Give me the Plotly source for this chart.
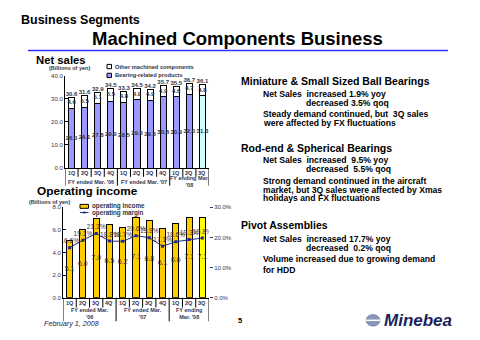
import plotly.graph_objects as go

# ---------------- data ----------------
quarters = ["1Q", "2Q", "3Q", "4Q", "1Q", "2Q", "3Q", "4Q", "1Q", "2Q", "3Q"]
bearing_related = [26.0, 26.1, 27.8, 29.0, 28.5, 29.6, 29.3, 30.8, 30.9, 32.0, 31.3]
other_machined = [4.6, 5.5, 5.1, 5.5, 4.8, 4.9, 4.9, 4.9, 4.6, 4.7, 4.8]
net_sales_total = [30.6, 31.6, 32.9, 34.5, 33.3, 34.5, 34.2, 35.7, 35.5, 36.7, 36.1]
operating_income = [5.1, 6.0, 7.0, 6.5, 6.2, 7.1, 6.8, 6.1, 6.6, 7.1, 7.1]
operating_margin = [16.6, 19.1, 21.3, 18.8, 18.7, 20.6, 19.9, 17.1, 18.6, 19.3, 19.8]
groups_ns = ["FY ended Mar. '06", "FY ended Mar. '07", "FY ending Mar.<br>'08"]
groups_op = ["FY ended Mar.<br>'06", "FY ended Mar.<br>'07", "FY ending<br>Mar. '08"]
group_spans = [(0, 3), (4, 7), (8, 10)]

W, H = 480, 340
FONT = "Liberation Sans"
def px(p): return p / W
def py(p): return 1 - p / H

n = len(quarters)
xs = list(range(n))
bear_colors = ["#9999FF"] * (n - 1) + ["#CCFFFF"]
op_colors = ["#FFCC00"] * (n - 1) + ["#FFFF00"]

fig = go.Figure()

# Net sales stacked bars
fig.add_trace(go.Bar(x=xs, y=bearing_related, marker=dict(color=bear_colors, line=dict(color="black", width=1)),
                     width=0.46, xaxis="x", yaxis="y", showlegend=False, hoverinfo="skip"))
fig.add_trace(go.Bar(x=xs, y=other_machined, marker=dict(color="white", line=dict(color="black", width=1)),
                     width=0.46, xaxis="x", yaxis="y", showlegend=False, hoverinfo="skip"))
lab_font = dict(family=FONT, size=6, color="#333344")
fig.add_trace(go.Scatter(x=xs, y=[b / 2 for b in bearing_related], mode="text",
                         text=[f"<b>{v:.1f}</b>" for v in bearing_related], textfont=lab_font,
                         xaxis="x", yaxis="y", showlegend=False, hoverinfo="skip"))
fig.add_trace(go.Scatter(x=xs, y=[b + o / 2 for b, o in zip(bearing_related, other_machined)], mode="text",
                         text=[f"<b>{v:.1f}</b>" for v in other_machined], textfont=lab_font,
                         xaxis="x", yaxis="y", showlegend=False, hoverinfo="skip"))
fig.add_trace(go.Scatter(x=xs, y=net_sales_total, mode="text", textposition="top center",
                         text=[f"<b>{v:.1f}</b>" for v in net_sales_total], textfont=lab_font,
                         xaxis="x", yaxis="y", showlegend=False, hoverinfo="skip"))

# Operating income bars
fig.add_trace(go.Bar(x=xs, y=operating_income, marker=dict(color=op_colors, line=dict(color="black", width=1)),
                     width=0.46, xaxis="x2", yaxis="y2", showlegend=False, hoverinfo="skip"))
fig.add_trace(go.Scatter(x=xs, y=[v / 2 for v in operating_income], mode="text",
                         text=[f"{v:.1f}" for v in operating_income],
                         textfont=dict(family=FONT, size=7, color="#3a3040"),
                         xaxis="x2", yaxis="y2", showlegend=False, hoverinfo="skip"))
fig.add_trace(go.Scatter(x=xs, y=[m / 100 for m in operating_margin], mode="lines+markers+text",
                         line=dict(color="#1f2a8a", width=1), marker=dict(color="#1f2a8a", size=3, symbol="square"),
                         text=[f"{m:.1f}%" for m in operating_margin], textposition="top center",
                         textfont=dict(family=FONT, size=6.6, color="#4a3030"),
                         xaxis="x2", yaxis="y3", showlegend=False, hoverinfo="skip"))

tickfont = dict(family=FONT, size=6, color="#333355")
fig.update_layout(
    width=W, height=H, margin=dict(l=0, r=0, t=0, b=0), autosize=False,
    paper_bgcolor="white", plot_bgcolor="white", barmode="stack", showlegend=False,
    xaxis=dict(domain=[px(65), px(209)], range=[-0.5, n - 0.5], showticklabels=False, ticks="",
               showgrid=False, zeroline=False, showline=True, linecolor="black", linewidth=1, anchor="y"),
    yaxis=dict(domain=[py(168), py(74)], range=[0, 40], tickvals=[0, 10, 20, 30, 40],
               ticktext=["0.0", "10.0", "20.0", "30.0", "40.0"], tickfont=tickfont,
               ticks="inside", ticklen=3, tickcolor="black", showgrid=False, zeroline=False,
               showline=True, linecolor="black", linewidth=1, anchor="x"),
    xaxis2=dict(domain=[px(63), px(209)], range=[-0.5, n - 0.5], showticklabels=False, ticks="",
                showgrid=False, zeroline=False, showline=True, linecolor="black", linewidth=1, anchor="y2"),
    yaxis2=dict(domain=[py(300), py(208)], range=[0, 8], tickvals=[0, 2, 4, 6, 8],
                ticktext=["0.0", "2.0", "4.0", "6.0", "8.0"], tickfont=tickfont,
                ticks="inside", ticklen=3, tickcolor="black", showgrid=False, zeroline=False,
                showline=True, linecolor="black", linewidth=1, anchor="x2"),
    yaxis3=dict(overlaying="y2", side="right", anchor="x2", range=[0, 0.30],
                tickvals=[0, 0.1, 0.2, 0.3], ticktext=["0.0%", "10.0%", "20.0%", "30.0%"],
                tickfont=tickfont, ticks="outside", ticklen=3, tickcolor="#333366",
                showgrid=False, zeroline=False, showline=False),
)

shapes = []
annotations = []

def ann(text, x, y, size, bold=False, italic=False, color="black", xanchor="left", xref="paper", align="left"):
    t = text
    if bold:
        t = f"<b>{t}</b>"
    if italic:
        t = f"<i>{t}</i>"
    annotations.append(dict(text=t, x=x, y=y, xref=xref, yref="paper", xanchor=xanchor, yanchor="middle",
                            showarrow=False, align=align, font=dict(family=FONT, size=size, color=color)))

# category tables below the charts
def table(xref, top, mid, bottom, q_y, g_y, groups):
    bounds = [g[0] - 0.5 for g in group_spans] + [group_spans[-1][1] + 0.5]
    for i in range(n + 1):
        xb = i - 0.5
        yb = bottom if xb in bounds else mid
        shapes.append(dict(type="line", xref=xref, yref="paper", x0=xb, x1=xb, y0=py(top), y1=py(yb),
                           line=dict(color="black", width=1)))
    for i, q in enumerate(quarters):
        ann(q, i, py(q_y), 5.5, bold=True, xanchor="center", xref=xref, color="#333355")
    for g, (a, b) in zip(groups, group_spans):
        ann(g, (a + b) / 2, py(g_y), 5.5, bold=True, xanchor="center", xref=xref, color="#333355", align="center")

table("x", 168, 177, 186, 173, 182, groups_ns)
table("x2", 300, 310, 324, 305, 316.5, groups_op)

# titles
ann("Business Segments", px(19), py(17), 12.5, bold=True)
ann("Machined Components Business", px(237), py(36), 18.5, bold=True, xanchor="center")
shapes.append(dict(type="line", xref="paper", yref="paper", x0=px(28), x1=px(448), y0=py(48.3), y1=py(48.3),
                   line=dict(color="#3333FF", width=1.5)))

ann("Net sales", px(34), py(58.5), 11.3, bold=True)
ann("(Billions of yen)", px(47), py(66.5), 5.5, bold=True, color="#333344")
ann("Operating income", px(35), py(191.5), 11.8, bold=True)
ann("(Billions of yen)", px(27), py(202.5), 5.5, bold=True, color="#333344")

# net sales legend
for yy, col, txt in [(64.7, "white", "Other machined components"), (73.7, "#9999FF", "Bearing-related products")]:
    shapes.append(dict(type="rect", xref="paper", yref="paper", x0=px(107), x1=px(111.5),
                       y0=py(yy + 2.2), y1=py(yy - 2.2), fillcolor=col, line=dict(color="black", width=1)))
    ann(txt, px(112.5), py(yy), 5.7, bold=True, color="#333344")

# operating income legend
shapes.append(dict(type="rect", xref="paper", yref="paper", x0=px(80), x1=px(88.5),
                   y0=py(209), y1=py(205), fillcolor="#FFCC00", line=dict(color="black", width=1)))
ann("operating income", px(89.5), py(207), 6.3, bold=True, color="#333344")
shapes.append(dict(type="line", xref="paper", yref="paper", x0=px(80), x1=px(88.5), y0=py(213.3), y1=py(213.3),
                   line=dict(color="#1f2a8a", width=1)))
shapes.append(dict(type="rect", xref="paper", yref="paper", x0=px(83.3), x1=px(85.3), y0=py(214.3), y1=py(212.3),
                   fillcolor="#1f2a8a", line=dict(width=0)))
ann("operating margin", px(89.5), py(213.3), 6.3, bold=True, color="#333344")

# right-hand commentary
HB = 10.5
BT = 8.6
ann("Miniature & Small Sized Ball Bearings", px(239), py(79), HB, bold=True)
ann("Net Sales  increased 1.9% yoy", px(261), py(93), BT, bold=True)
ann("decreased 3.5% qoq", px(304), py(102), BT, bold=True)
ann("Steady demand continued, but  3Q sales", px(261), py(113), BT, bold=True)
ann("were affected by FX fluctuations", px(261), py(122), BT, bold=True)

ann("Rod-end & Spherical Bearings", px(239), py(148), HB, bold=True)
ann("Net Sales  increased  9.5% yoy", px(261), py(160), BT, bold=True)
ann("decreased  5.5% qoq", px(304), py(169), BT, bold=True)
ann("Strong demand continued in the aircraft", px(261), py(181.5), BT, bold=True)
ann("market, but 3Q sales were affected by Xmas", px(261), py(190), BT, bold=True)
ann("holidays and FX fluctuations", px(261), py(198), BT, bold=True)

ann("Pivot Assemblies", px(239), py(226), HB, bold=True)
ann("Net Sales  increased 17.7% yoy", px(261), py(240), BT, bold=True)
ann("decreased  0.2% qoq", px(304), py(249), BT, bold=True)
ann("Volume increased due to growing demand", px(261), py(261), BT, bold=True)
ann("for HDD", px(261), py(272), BT, bold=True)

# footer
ann("February 1, 2008", px(42), py(326), 7.2, italic=True, color="#1a1a50")
ann("5", px(236), py(323), 7.5, bold=True)
shapes.append(dict(type="circle", xref="paper", yref="paper", x0=px(366), x1=px(380), y0=py(329), y1=py(317),
                   fillcolor="#8796b8", line=dict(color="#5a6a90", width=0.5)))
shapes.append(dict(type="line", xref="paper", yref="paper", x0=px(366), x1=px(380), y0=py(323), y1=py(323),
                   line=dict(color="white", width=1.5)))
ann("Minebea", px(382), py(323), 17, bold=True, italic=True, color="#1b1f5c")

fig.update_layout(shapes=shapes, annotations=annotations)
fig.write_html("out.html")
